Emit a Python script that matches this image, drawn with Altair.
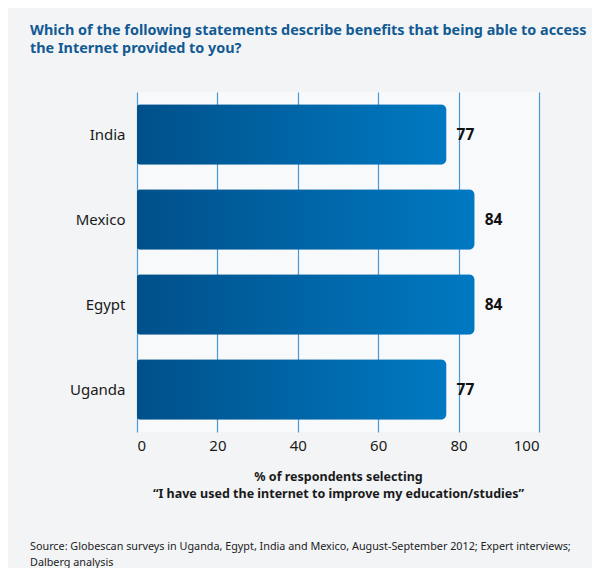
import altair as alt
import pandas as pd

countries = ["India", "Mexico", "Egypt", "Uganda"]
values = [77, 84, 84, 77]
x_ticks = [0, 20, 40, 60, 80, 100]

title_lines = [
    "Which of the following statements describe benefits that being able to access",
    "the Internet provided to you?",
]
axis_title = [
    "% of respondents selecting",
    "\u201cI have used the internet to improve my education/studies\u201d",
]
source_text = ("Source: Globescan surveys in Uganda, Egypt, India and Mexico, August-September 2012; Expert interviews;\n"
               "Dalberg analysis")

df = pd.DataFrame({"country": countries, "value": values})
src = pd.DataFrame({"t": [source_text]})

W, H = 402, 340
FONT = "Noto Sans"

grad = alt.LinearGradient(
    gradient="linear",
    stops=[alt.GradientStop(color="#00508a", offset=0),
           alt.GradientStop(color="#0079c2", offset=1)],
    x1=0, x2=1, y1=0, y2=0,
)

y_enc = alt.Y("country:N", sort=countries,
              scale=alt.Scale(paddingInner=0.29, paddingOuter=0.145),
              axis=alt.Axis(title=None, ticks=False, domain=False, labelPadding=12,
                            labelFontSize=15, labelColor="#1a1a1a", labelFont=FONT))
x_enc = alt.X("value:Q", scale=alt.Scale(domain=[0, 100], nice=False),
              axis=alt.Axis(values=x_ticks, title=axis_title, grid=True,
                            gridColor="#4b98d6", gridWidth=1.2, ticks=False, domain=False,
                            labelFontSize=15, labelColor="#1a1a1a", labelFont=FONT,
                            labelPadding=6, titleFontSize=12.5, titleFont=FONT,
                            titleFontWeight="bold", titleColor="#1a1a1a", titlePadding=17,
                            titleLineHeight=17))

bars = alt.Chart(df).mark_bar(
    color=grad, cornerRadiusTopRight=6, cornerRadiusBottomRight=6,
    cornerRadiusTopLeft=3, cornerRadiusBottomLeft=3,
).encode(x=x_enc, y=y_enc)

labels = alt.Chart(df).mark_text(
    align="left", baseline="middle", dx=10, fontSize=15.5, fontWeight="bold",
    font=FONT, color="#111111",
).encode(x="value:Q", y=alt.Y("country:N", sort=countries), text="value:Q")

source = alt.Chart(src).mark_text(
    align="left", baseline="top", fontSize=10.8, font=FONT, color="#222222",
    lineBreak="\n", lineHeight=16,
).encode(x=alt.value(-107), y=alt.value(449), text="t:N")

chart = alt.layer(bars, labels, source).properties(
    width=W, height=H,
    title=alt.TitleParams(text=title_lines, anchor="start", frame="group", dx=-107,
                          offset=36, fontSize=14.4, font=FONT, fontWeight="bold",
                          color="#125a93", lineHeight=18),
    autosize=alt.AutoSizeParams(type="none"),
    padding={"left": 129, "top": 84, "right": 53, "bottom": 136},
    background="#f2f4f6",
).configure_view(stroke=None, fill="#f8f9fa")

chart.save("out.html", embed_options={"renderer": "svg", "actions": False})
